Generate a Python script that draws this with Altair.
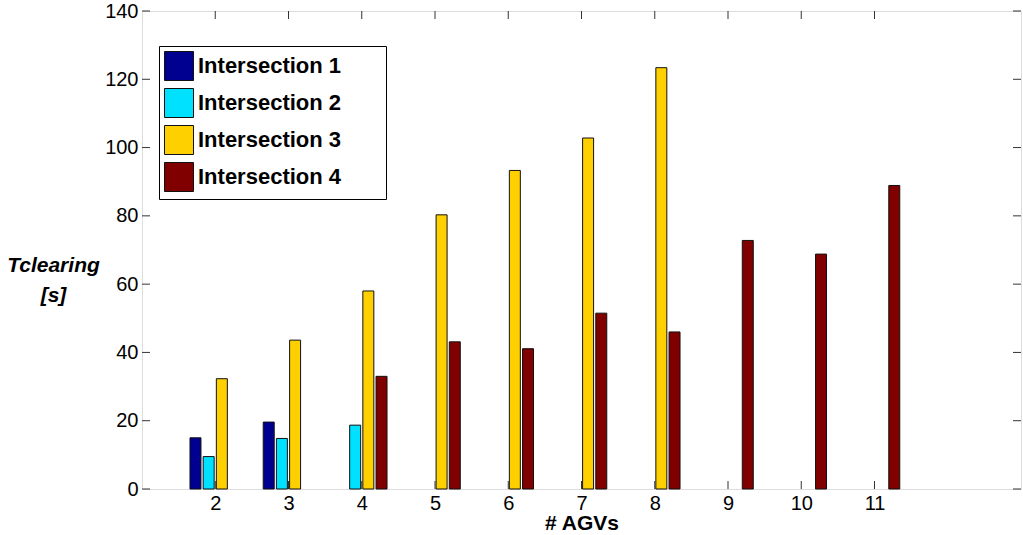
import altair as alt
import pandas as pd

agvs = [2, 3, 4, 5, 6, 7, 8, 9, 10, 11]
series = ["Intersection 1", "Intersection 2", "Intersection 3", "Intersection 4"]
int1 = [15.0, 19.6, None, None, None, None, None, None, None, None]
int2 = [9.5, 14.8, 18.7, None, None, None, None, None, None, None]
int3 = [32.3, 43.6, 58.0, 80.3, 93.3, 102.8, 123.4, None, None, None]
int4 = [None, None, 33.0, 43.1, 41.1, 51.5, 46.0, 72.8, 68.8, 88.9]
colors = ["#000090", "#00E0FF", "#FFD000", "#800000"]
y_ticks = [0, 20, 40, 60, 80, 100, 120, 140]

rows = []
for k, (name, vals) in enumerate(zip(series, [int1, int2, int3, int4])):
    for n, v in zip(agvs, vals):
        if v is not None:
            rows.append({"series": name, "k": k, "n": n, "value": v})
df = pd.DataFrame(rows)
xt = pd.DataFrame({"n": agvs})
yt = pd.DataFrame({"v": y_ticks})

W, H = 879, 478
FONT = "Liberation Sans"

xscale = alt.Scale(domain=[1, 13], nice=False, zero=False)
yscale = alt.Scale(domain=[0, 140], nice=False)

xaxis = alt.Axis(
    values=agvs, tickSize=0, domain=False, grid=False, labelFontSize=20,
    labelFont=FONT, labelPadding=4, labelColor="#000",
    title="# AGVs", titleFont=FONT, titleFontSize=21, titleFontWeight="bold",
    titleBaseline="alphabetic", titleY=40, titleColor="#000")
yaxis = alt.Axis(
    values=y_ticks, tickSize=0, domain=False, grid=False, labelFontSize=20,
    labelFont=FONT, labelPadding=4, labelColor="#000",
    title=["Tclearing", "[s]"], titleAngle=0, titleFont=FONT, titleFontSize=21,
    titleFontWeight="bold", titleFontStyle="italic", titleAlign="center",
    titleBaseline="middle", titleX=-89, titleY=254, titleLineHeight=30,
    titleColor="#000")

bars = alt.Chart(df).mark_bar(stroke="#111", strokeWidth=1).transform_calculate(
    x0="datum.n + [-0.27, -0.09, 0.09, 0.27][datum.k] - 0.075",
    x1="datum.n + [-0.27, -0.09, 0.09, 0.27][datum.k] + 0.075",
).encode(
    x=alt.X("x0:Q", scale=xscale, axis=xaxis),
    x2="x1:Q",
    y=alt.Y("value:Q", scale=yscale, axis=yaxis),
    y2=alt.datum(0),
    color=alt.Color("series:N", scale=alt.Scale(domain=series, range=colors),
                    legend=alt.Legend(title="MMM", titleOrient="right", titleColor="white",
                                      titleFontSize=16, titlePadding=0,
                                      orient="none", legendX=17, legendY=35,
                                      padding=5, strokeColor="#000", fillColor="#fff",
                                      symbolType="square", symbolSize=841,
                                      symbolStrokeColor="#111", symbolStrokeWidth=1,
                                      symbolOpacity=1, labelFontSize=22,
                                      labelFontWeight="bold", labelFont=FONT,
                                      labelColor="#000", rowPadding=3, labelOffset=4)),
)

tick_col = "#333"
bottom_ticks = alt.Chart(xt).mark_rule(color=tick_col, strokeWidth=1).encode(
    x=alt.X("n:Q", scale=xscale, axis=xaxis), y=alt.value(H), y2=alt.value(H - 8))
top_ticks = alt.Chart(xt).mark_rule(color=tick_col, strokeWidth=1).encode(
    x=alt.X("n:Q", scale=xscale, axis=xaxis), y=alt.value(0), y2=alt.value(8))
left_ticks = alt.Chart(yt).mark_rule(color=tick_col, strokeWidth=1).encode(
    y=alt.Y("v:Q", scale=yscale, axis=yaxis), x=alt.value(0), x2=alt.value(8))
right_ticks = alt.Chart(yt).mark_rule(color=tick_col, strokeWidth=1).encode(
    y=alt.Y("v:Q", scale=yscale, axis=yaxis), x=alt.value(W), x2=alt.value(W - 8))

chart = alt.layer(bars, bottom_ticks, top_ticks, left_ticks, right_ticks).properties(
    width=W, height=H,
    autosize=alt.AutoSizeParams(type="none"),
    padding={"left": 142, "top": 11, "right": 2, "bottom": 46},
).configure_view(stroke="#000", strokeWidth=1.3).configure(background="white")

chart.save("out.html", embed_options={"renderer": "svg", "actions": False})
